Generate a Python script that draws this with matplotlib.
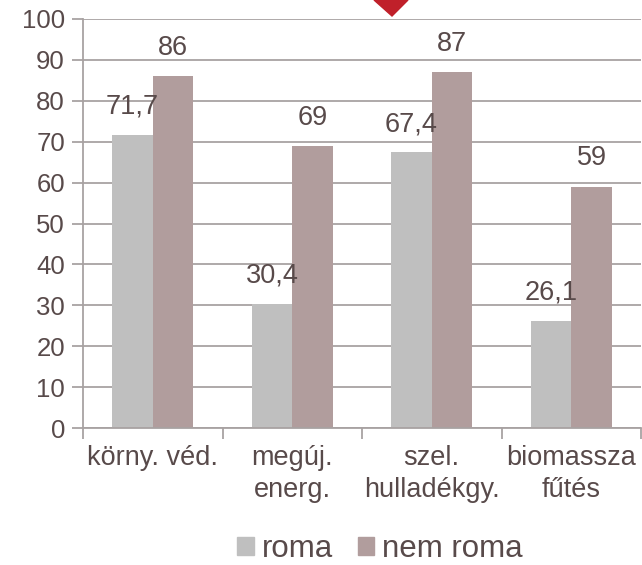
import numpy as np
import matplotlib
matplotlib.use("Agg")
import matplotlib.pyplot as plt
from matplotlib.patches import Polygon, Patch

categories = ["körny. véd.", "megúj.\nenerg.", "szel.\nhulladékgy.", "biomassza\nfűtés"]
roma = [71.7, 30.4, 67.4, 26.1]
nem_roma = [86, 69, 87, 59]
series_names = ["roma", "nem roma"]

TEXT = "#584a4a"
GRID = "#a8a2a2"
C_ROMA = "#bfbfbf"
C_NEM = "#b19d9d"

plt.rcParams["font.family"] = ["Liberation Sans", "DejaVu Sans"]
plt.rcParams["font.size"] = 18.5

fig = plt.figure(figsize=(6.42, 5.65), dpi=100)
ax = fig.add_axes([83 / 642, 137 / 565, 558 / 642, 409 / 565])

x = np.arange(len(categories))
w = 0.29
b1 = ax.bar(x - w / 2, roma, width=w, color=C_ROMA, zorder=3)
b2 = ax.bar(x + w / 2, nem_roma, width=w, color=C_NEM, zorder=3)

def fmt(v):
    return f"{v:g}".replace(".", ",")

for bars, vals in ((b1, roma), (b2, nem_roma)):
    for r, v in zip(bars, vals):
        ax.annotate(fmt(v), (r.get_x() + r.get_width() / 2, v),
                    xytext=(0, 11), textcoords="offset points",
                    ha="center", va="bottom", color=TEXT, fontsize=19.5)

ax.set_xlim(-0.5, len(categories) - 0.5)
ax.set_ylim(0, 100)
ax.set_yticks(range(0, 101, 10))
ax.yaxis.grid(True, color=GRID, linewidth=1.3, zorder=0)

# category boundaries as major ticks, labels on minor ticks
ax.set_xticks(np.arange(-0.5, len(categories), 1.0))
ax.set_xticklabels([])
ax.set_xticks(x, minor=True)
ax.set_xticklabels(categories, minor=True, color=TEXT, linespacing=1.3, fontsize=19.5)
ax.tick_params(axis="x", which="major", length=8, width=1.3, color=GRID, direction="out")
ax.tick_params(axis="x", which="minor", length=0, pad=12)
ax.tick_params(axis="y", length=8, width=1.3, color=GRID, labelcolor=TEXT, pad=5)

for s in ("top", "right"):
    ax.spines[s].set_visible(False)
for s in ("left", "bottom"):
    ax.spines[s].set_color(GRID)
    ax.spines[s].set_linewidth(1.3)
    ax.spines[s].set_zorder(4)

handles = [Patch(color=C_ROMA), Patch(color=C_NEM)]
fig.legend(handles, series_names, loc="center", bbox_to_anchor=(380 / 642, 1 - 549 / 565),
           ncol=2, frameon=False, handlelength=0.52, handleheight=0.52,
           handletextpad=0.25, columnspacing=0.8, labelcolor=TEXT, fontsize=22.5,
           borderpad=0)

# red marker shape at the top edge
tri = Polygon([(374 / 642, 1.0), (408 / 642, 1.0), (392 / 642, 1 - 16 / 565)],
              closed=True, transform=fig.transFigure, color="#c0202a", zorder=5)
fig.patches.append(tri)

fig.savefig("out.png", dpi=100)
